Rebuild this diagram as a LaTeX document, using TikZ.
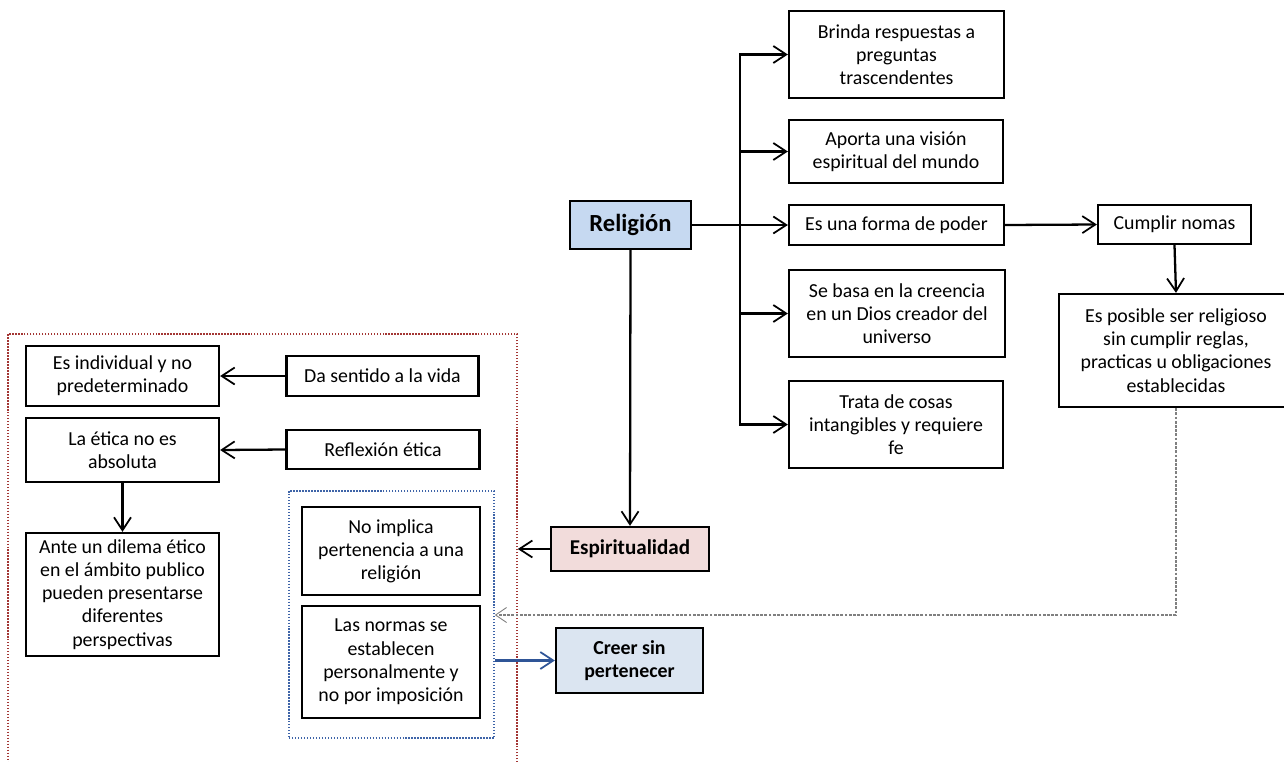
\documentclass[tikz,border=0pt]{standalone}
\usepackage{fontspec}
\setmainfont{Carlito}
\usepackage{tikz}
\usetikzlibrary{positioning,fit,arrows.meta}

\definecolor{relfill}{HTML}{C6D9F1}
\definecolor{espfill}{HTML}{F2DCDB}
\definecolor{creerfill}{HTML}{DBE5F1}
\definecolor{arrblue}{HTML}{2F5597}
\definecolor{reddot}{HTML}{A33634}
\definecolor{bluedot}{HTML}{3E64A8}

\tikzset{
  every node/.style={font=\fontsize{11.3}{13.2}\selectfont},
  cbox/.style 2 args={draw, line width=1.3pt, minimum width=#1, minimum height=#2, align=center, inner sep=1pt},
  arr/.style={-{Straight Barb[length=2.6mm,width=3.4mm,line width=1pt]}, line width=1.3pt},
  greyarr/.style={-{Straight Barb[length=2.2mm,width=3mm,line width=0.5pt]}, gray, line width=0.7pt, dash pattern=on 1.6pt off 0.8pt},
  bluearr/.style={-{Straight Barb[length=2.6mm,width=3.4mm,line width=1pt]}, arrblue, line width=1.3pt},
  redframe/.style={draw=reddot, line width=0.9pt, dash pattern=on 0.8pt off 0.9pt, inner sep=0pt},
  blueframe/.style={draw=bluedot, line width=0.9pt, dash pattern=on 0.8pt off 0.9pt, inner sep=0pt}
}

\begin{document}
\begin{tikzpicture}[x=0.02cm, y=-0.02cm]
  \useasboundingbox (0,0) rectangle (1284,761);

  % religion side
  \node[cbox={2.42cm}{0.96cm}, fill=relfill, font=\fontsize{14}{16}\selectfont\bfseries] (rel) at (630.5,225) {Religión};
  \node[cbox={4.3cm}{1.74cm}] (brinda) at (896.5,54.5) {Brinda respuestas a\\preguntas\\trascendentes};
  \node[cbox={4.28cm}{1.26cm}] (aporta) at (896,151.5) {Aporta una visión\\espiritual del mundo};
  \node[cbox={4.3cm}{0.8cm}] (poder) at (896.5,225) {Es una forma de poder};
  \node[cbox={4.32cm}{1.74cm}] (basa) at (897,313.5) {Se basa en la creencia\\en un Dios creador del\\universo};
  \node[cbox={4.28cm}{1.74cm}] (trata) at (896,424.5) {Trata de cosas\\intangibles y requiere\\fe};
  \node[cbox={3.06cm}{0.78cm}] (cumplir) at (1174.5,224.5) {Cumplir nomas};
  \node[cbox={4.68cm}{2.26cm}] (posible) at (1176,350.5) {Es posible ser religioso\\sin cumplir reglas,\\practicas u obligaciones\\establecidas};

  % espiritualidad side
  \node[cbox={3.16cm}{0.88cm}, fill=espfill, font=\fontsize{12}{14}\selectfont\bfseries] (espi) at (630,549) {Espiritualidad};
  \node[cbox={2.94cm}{1.3cm}, fill=creerfill, font=\fontsize{11.3}{13.2}\selectfont\bfseries] (creer) at (629.5,660.5) {Creer sin\\pertenecer};
  \node[cbox={3.86cm}{1.2cm}] (indiv) at (122.5,376) {Es individual y no\\predeterminado};
  \node[cbox={3.84cm}{0.8cm}] (sentido) at (382.5,376) {Da sentido a la vida};
  \node[cbox={3.86cm}{1.28cm}] (etica) at (122.5,450) {La ética no es\\absoluta};
  \node[cbox={3.86cm}{0.78cm}] (reflex) at (383,449.5) {Reflexión ética};
  \node[cbox={3.86cm}{2.46cm}] (dilema) at (122.5,594.5) {Ante un dilema ético\\en el ámbito publico\\pueden presentarse\\diferentes\\perspectivas};
  \node[cbox={3.56cm}{1.76cm}] (noimp) at (391,551) {No implica\\pertenencia a una\\religión};
  \node[cbox={3.56cm}{2.24cm}] (normas) at (391,662) {Las normas se\\establecen\\personalmente y\\no por imposición};

  % frames
  \node[redframe, fit={(8,334) (517,800)}] (spbox) {};
  \node[blueframe, fit={(289,491) (494,738)}] (spgroup) {};

  % connectors
  \coordinate (hub) at (740,225);
  \coordinate (turn) at (1176,615);
  \draw[arr] (rel.east) -- (hub) |- (brinda.west);
  \draw[arr] (rel.east) -- (hub) |- (aporta.west);
  \draw[arr] (rel.east) -- (poder.west);
  \draw[arr] (rel.east) -- (hub) |- (basa.west);
  \draw[arr] (rel.east) -- (hub) |- (trata.west);
  \draw[arr] (poder.east) -- (cumplir.west);
  \draw[arr] (cumplir.south) -- (posible.north);
  \draw[greyarr] (posible.south) -- (turn) -- (turn -| spgroup.east);
  \draw[arr] (rel.south) -- (espi.north);
  \draw[arr] (espi.west) -- (espi.west -| spbox.east);
  \draw[bluearr] (creer.west -| spgroup.east) -- (creer.west);
  \draw[arr] (sentido.west) -- (indiv.east);
  \draw[arr] (reflex.west) -- (etica.east);
  \draw[arr] (etica.south) -- (dilema.north);
\end{tikzpicture}
\end{document}
